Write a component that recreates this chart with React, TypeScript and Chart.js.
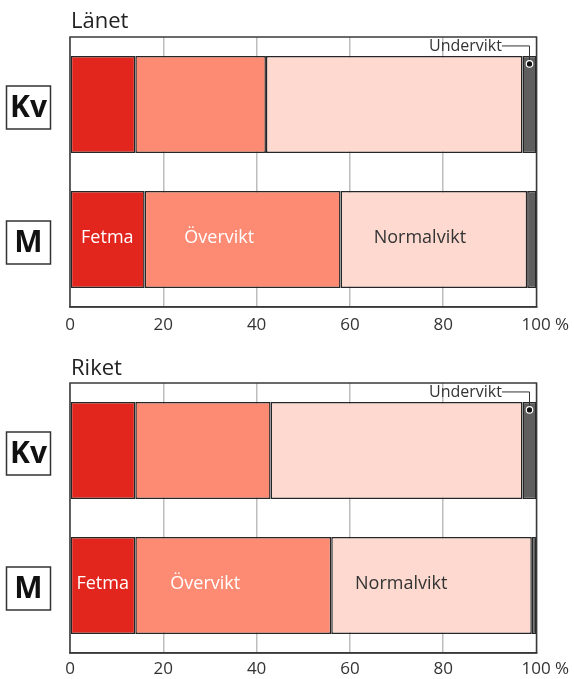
import React, { useEffect, useRef } from 'react';
import { Chart, registerables } from 'chart.js';

Chart.register(...registerables);

const FONT = "'Open Sans', 'Noto Sans', sans-serif";

const categories = ['Kv', 'M'];
const seriesNames = ['Fetma', 'Övervikt', 'Normalvikt', 'Undervikt'];
const seriesColors = ['#e3261d', '#fd8b73', '#fdd9cf', '#5e5e5e'];
const seriesLabelColors = ['#ffffff', '#ffffff', '#333333'];

const lanetFetma = [14, 16];
const lanetOvervikt = [28, 42];
const lanetNormalvikt = [55, 40];
const lanetUndervikt = [3, 2];

const riketFetma = [14, 14];
const riketOvervikt = [29, 42];
const riketNormalvikt = [54, 43];
const riketUndervikt = [3, 1];

const xTickValues = [0, 20, 40, 60, 80, 100];
const lastTickLabel = '100 %';

// where the series names sit inside the M bar (in axis values)
const lanetLabelPos = [8, 32, 75];
const riketLabelPos = [7, 29, 71];
// right end of the "Undervikt" callout text (axis value)
const calloutTextEnd = 92.6;

type PanelProps = {
  title: string;
  series: number[][];
  labelPos: number[];
  top: number;
  height: number;
  padTop: number;
  axisH: number;
  tickPad: number;
  titleBaseline: number;
};

function Panel(p: PanelProps) {
  const ref = useRef<HTMLCanvasElement | null>(null);

  useEffect(() => {
    if (!ref.current) return;
    const overlay = {
      id: 'overlay',
      afterDraw(chart: any) {
        const ctx = chart.ctx;
        const ca = chart.chartArea;
        const xs = chart.scales.x;
        const ys = chart.scales.y;
        ctx.save();
        // plot frame
        ctx.strokeStyle = '#3a3a3a';
        ctx.lineWidth = 1.5;
        ctx.strokeRect(ca.left, ca.top, ca.right - ca.left, ca.bottom - ca.top);

        // title
        ctx.fillStyle = '#222222';
        ctx.font = `22px ${FONT}`;
        ctx.textAlign = 'left';
        ctx.textBaseline = 'alphabetic';
        ctx.fillText(p.title, ca.left + 1, p.titleBaseline);

        // category boxes
        categories.forEach((c, i) => {
          const cy = ys.getPixelForValue(i) + 3;
          ctx.strokeStyle = '#333333';
          ctx.lineWidth = 1.5;
          ctx.fillStyle = '#ffffff';
          ctx.fillRect(6.5, cy - 21.5, 44, 43);
          ctx.strokeRect(6.5, cy - 21.5, 44, 43);
          ctx.fillStyle = '#111111';
          ctx.font = `bold 30px ${FONT}`;
          ctx.textAlign = 'center';
          ctx.textBaseline = 'middle';
          ctx.fillText(c, 28.5, cy + 1);
        });

        // series labels in the M bar
        const my = ys.getPixelForValue(1) - 2;
        ctx.font = `18px ${FONT}`;
        ctx.textAlign = 'center';
        ctx.textBaseline = 'middle';
        for (let j = 0; j < 3; j++) {
          ctx.fillStyle = seriesLabelColors[j];
          ctx.fillText(seriesNames[j], xs.getPixelForValue(p.labelPos[j]), my);
        }

        // Undervikt callout on Kv bar
        const el: any = chart.getDatasetMeta(3).data[0];
        const barTop = el.y - el.height / 2;
        const dotX = (el.x + el.base) / 2;
        const dotY = barTop + 8;
        const textY = (ca.top + barTop) / 2;
        const textRight = xs.getPixelForValue(calloutTextEnd);
        ctx.fillStyle = '#333333';
        ctx.font = `16px ${FONT}`;
        ctx.textAlign = 'right';
        ctx.textBaseline = 'middle';
        ctx.fillText(seriesNames[3], textRight, textY);
        ctx.strokeStyle = '#333333';
        ctx.lineWidth = 1;
        ctx.beginPath();
        ctx.moveTo(textRight, textY - 0.5);
        ctx.lineTo(dotX, textY - 0.5);
        ctx.lineTo(dotX, dotY);
        ctx.stroke();
        ctx.beginPath();
        ctx.arc(dotX, dotY, 3.2, 0, Math.PI * 2);
        ctx.fillStyle = '#111111';
        ctx.fill();
        ctx.strokeStyle = '#ffffff';
        ctx.lineWidth = 1.2;
        ctx.stroke();
        ctx.restore();
      },
    };

    const chart = new Chart(ref.current, {
      type: 'bar',
      data: {
        labels: categories,
        datasets: seriesNames.map((name, k) => ({
          label: name,
          data: p.series[k],
          backgroundColor: seriesColors[k],
          borderColor: '#262626',
          borderWidth: 1.5,
          borderSkipped: false,
          barPercentage: 0.72,
          categoryPercentage: 1,
        })),
      },
      options: {
        indexAxis: 'y',
        animation: false,
        responsive: false,
        devicePixelRatio: 1,
        layout: { padding: { left: 70, right: 37.5, top: p.padTop, bottom: 0 } },
        plugins: { legend: { display: false }, tooltip: { enabled: false } },
        scales: {
          x: {
            type: 'linear',
            stacked: true,
            min: 0,
            max: 100,
            afterBuildTicks: (s: any) => {
              s.ticks = xTickValues.map((v) => ({ value: v }));
            },
            afterFit: (s: any) => {
              s.height = p.axisH;
              s.paddingLeft = 0;
              s.paddingRight = 0;
            },
            grid: { color: '#bdbdbd', lineWidth: 1.5, drawTicks: false },
            border: { display: true, color: '#3a3a3a', width: 1.5 },
            ticks: {
              padding: p.tickPad,
              color: '#333333',
              font: { family: FONT, size: 17 },
              maxRotation: 0,
              autoSkip: false,
              callback: (v: any) => (v === 100 ? '    ' + lastTickLabel : String(v)),
            },
          },
          y: {
            type: 'category',
            stacked: true,
            display: false,
          },
        },
      },
      plugins: [overlay],
    } as any);
    return () => chart.destroy();
  }, []);

  return (
    <canvas
      ref={ref}
      width={574}
      height={p.height}
      style={{ position: 'absolute', left: 0, top: p.top, width: 574, height: p.height }}
    />
  );
}

export default function App() {
  return (
    <div style={{ position: 'absolute', left: 0, top: 0, width: 574, height: 679, background: '#ffffff' }}>
      <Panel
        title="Länet"
        series={[lanetFetma, lanetOvervikt, lanetNormalvikt, lanetUndervikt]}
        labelPos={lanetLabelPos}
        top={0}
        height={340}
        padTop={37}
        axisH={33}
        tickPad={8}
        titleBaseline={28}
      />
      <Panel
        title="Riket"
        series={[riketFetma, riketOvervikt, riketNormalvikt, riketUndervikt]}
        labelPos={riketLabelPos}
        top={340}
        height={339}
        padTop={43}
        axisH={26}
        tickPad={6}
        titleBaseline={35}
      />
    </div>
  );
}
